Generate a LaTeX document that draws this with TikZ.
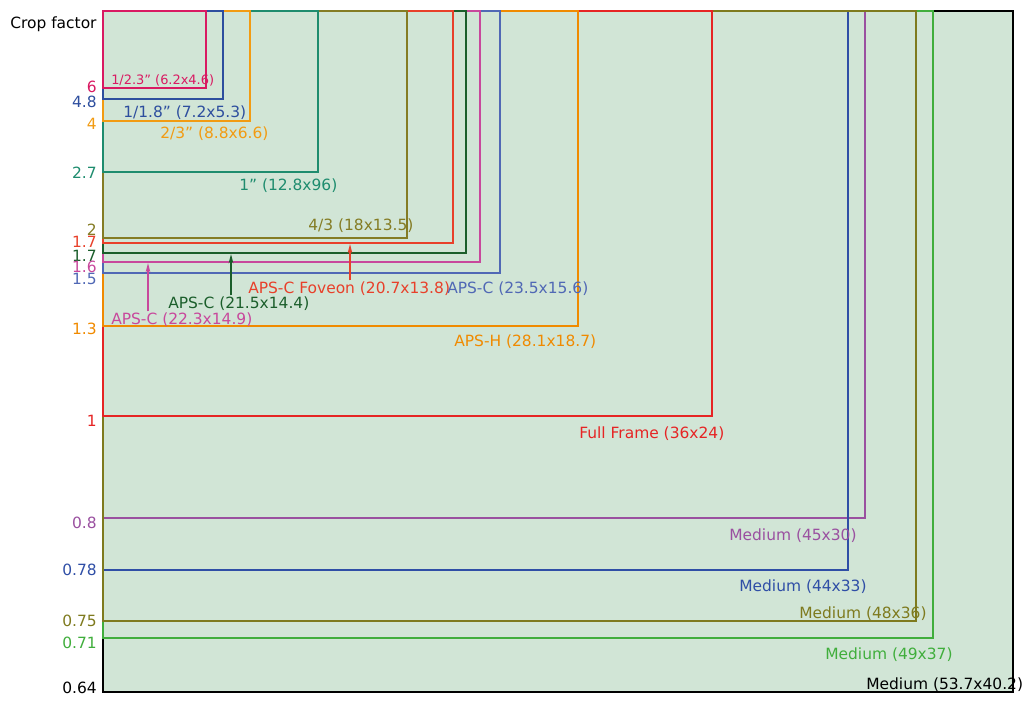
\documentclass[tikz,border=0pt]{standalone}
\usepackage{fontspec}
\setmainfont{DejaVu Sans}
\usetikzlibrary{arrows.meta}

\definecolor{pinkA}{HTML}{D91A62}
\definecolor{blueA}{HTML}{2D4E9E}
\definecolor{orangeA}{HTML}{F29B12}
\definecolor{tealA}{HTML}{1E8C6E}
\definecolor{oliveA}{HTML}{847C24}
\definecolor{redA}{HTML}{E8402A}
\definecolor{greenA}{HTML}{1B5E2B}
\definecolor{pinkB}{HTML}{C8489C}
\definecolor{blueB}{HTML}{5068B5}
\definecolor{orangeB}{HTML}{F08A00}
\definecolor{redB}{HTML}{E62424}
\definecolor{purpleA}{HTML}{9A50A0}
\definecolor{blueC}{HTML}{2F4EA6}
\definecolor{oliveB}{HTML}{7E7A1E}
\definecolor{greenB}{HTML}{40AE3C}
\definecolor{sensorfill}{HTML}{D1E5D6}

\begin{document}
\begin{tikzpicture}[x=0.75pt,y=0.75pt,yscale=-1,xscale=1,
  sensorlbl/.style={inner sep=0.75pt,yshift=-1.1pt,font=\fontsize{11.6}{13}\selectfont},
  cftick/.style={sensorlbl,anchor=east},
  sensorname/.style={sensorlbl,anchor=west},
  pointer/.style={-{Stealth[length=7pt,width=3.5pt]},line width=1pt}]
\useasboundingbox (0,0) rectangle (1024,704);
% outer sensor, filled
\draw[line width=1.2pt,fill=sensorfill] (103,11) rectangle (1013,692);
% sensor outlines, large to small
\foreach \rx/\by/\col in {933/638/greenB,865/518/purpleA,848/570/blueC,916/621/oliveB,
    712/416/redB,578/326/orangeB,500/273/blueB,480/262/pinkB,466/253/greenA,
    453/243/redA,407/238/oliveA,318/172/tealA,250/121/orangeA,223/99/blueA,206/88/pinkA}
  \draw[\col,line width=1pt] (103,11) rectangle (\rx,\by);

% crop factor axis
\draw (9,23) node [sensorlbl,anchor=west] (title) {Crop factor};
\draw (98,85) node [cftick,text=pinkA] (cf6) {6};
\draw (98,100) node [cftick,text=blueA] (cf48) {4.8};
\draw (98,122) node [cftick,text=orangeA] (cf4) {4};
\draw (98,171) node [cftick,text=tealA] (cf27) {2.7};
\draw (98,228) node [cftick,text=oliveA] (cf2) {2};
\draw (98,240) node [cftick,text=redA] (cf17a) {1.7};
\draw (98,254) node [cftick,text=greenA] (cf17b) {1.7};
\draw (98,265) node [cftick,text=pinkB] (cf16) {1.6};
\draw (98,277) node [cftick,text=blueB] (cf15) {1.5};
\draw (98,327) node [cftick,text=orangeB] (cf13) {1.3};
\draw (98,419) node [cftick,text=redB] (cf1) {1};
\draw (98,521) node [cftick,text=purpleA] (cf08) {0.8};
\draw (98,568) node [cftick,text=blueC] (cf078) {0.78};
\draw (98,619) node [cftick,text=oliveB] (cf075) {0.75};
\draw (98,641) node [cftick,text=greenB] (cf071) {0.71};
\draw (98,686) node [cftick] (cf064) {0.64};

% sensor names
\draw (110,79) node [sensorname,text=pinkA,font=\fontsize{9.7}{11}\selectfont] (n23) {1/2.3” (6.2x4.6)};
\draw (122,111) node [sensorname,text=blueA] (n18) {1/1.8” (7.2x5.3)};
\draw (159,132) node [sensorname,text=orangeA] (n23b) {2/3” (8.8x6.6)};
\draw (238,184) node [sensorname,text=tealA] (n1) {1” (12.8x96)};
\draw (307,224) node [sensorname,text=oliveA] (n43) {4/3 (18x13.5)};
\draw (247,287) node [sensorname,text=redA] (nfov) {APS-C Foveon (20.7x13.8)};
\draw (446,287) node [sensorname,text=blueB] (napsc) {APS-C (23.5x15.6)};
\draw (167,302) node [sensorname,text=greenA] (napsb) {APS-C (21.5x14.4)};
\draw (110,318) node [sensorname,text=pinkB] (napsa) {APS-C (22.3x14.9)};
\draw (453,340) node [sensorname,text=orangeB] (napsh) {APS-H (28.1x18.7)};
\draw (578,432) node [sensorname,text=redB] (nff) {Full Frame (36x24)};
\draw (728,534) node [sensorname,text=purpleA] (nm45) {Medium (45x30)};
\draw (738,585) node [sensorname,text=blueC] (nm44) {Medium (44x33)};
\draw (798,612) node [sensorname,text=oliveB] (nm48) {Medium (48x36)};
\draw (824,653) node [sensorname,text=greenB] (nm49) {Medium (49x37)};
\draw (865,683) node [sensorname] (nm53) {Medium (53.7x40.2)};

% pointers to the thin APS-C frames
\coordinate (tipa) at (148,263);
\coordinate (tipb) at (231,254);
\coordinate (tipc) at (350,244);
\draw[pointer,pinkB] (napsa.north -| tipa) -- (tipa);
\draw[pointer,greenA] (napsb.north -| tipb) -- (tipb);
\draw[pointer,redA] (nfov.north -| tipc) -- (tipc);
\end{tikzpicture}
\end{document}
